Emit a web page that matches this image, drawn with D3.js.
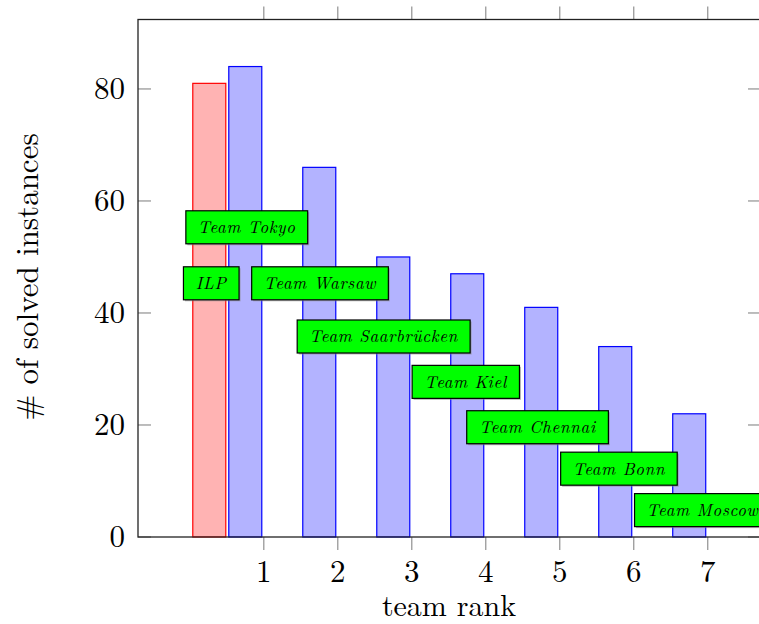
<!DOCTYPE html>
<html>
<head>
<meta charset="utf-8">
<script src="https://cdn.jsdelivr.net/npm/d3@7"></script>
<style>
  body { margin: 0; background: #fff; }
  svg { display: block; }
  text { font-family: "Latin Modern Roman", "DejaVu Serif", serif; fill: #000; }
</style>
</head>
<body>
<svg id="chart" width="759" height="624"></svg>
<script>
// data
var ilpRank = [0];
var ilpSolved = [81];
var teamRanks = [1, 2, 3, 4, 5, 6, 7];
var teamSolved = [84, 66, 50, 47, 41, 34, 22];
var xTicks = [1, 2, 3, 4, 5, 6, 7];
var yTicks = [0, 20, 40, 60, 80];

// label boxes: text and where their centres sit (data coords)
var labelTexts = ["Team Tokyo", "ILP", "Team Warsaw", "Team Saarbrücken", "Team Kiel", "Team Chennai", "Team Bonn", "Team Moscow"];
var labelX = [0.77, 0.29, 1.76, 2.62, 3.73, 4.70, 5.80, 6.93];
var labelY = [55.3, 45.3, 45.3, 35.8, 27.7, 19.6, 12.2, 4.8];

var pLeft = 138, pRight = 761, pTop = 19.5, pBottom = 537;
var barW = 33, shift = 18.5;

var svg = d3.select("#chart");

var x = d3.scaleLinear().domain([-0.7, 7.72]).range([pLeft, pRight]);
var y = d3.scaleLinear().domain([0, 92.4]).range([pBottom, pTop]);

// bars
svg.selectAll(".ilp")
    .data(ilpRank)
    .enter()
    .append("rect")
    .attr("class", "ilp")
    .attr("x", function(d) { return x(d) + shift - barW / 2 + 1; })
    .attr("y", function(d, i) { return y(ilpSolved[i]); })
    .attr("width", barW)
    .attr("height", function(d, i) { return y(0) - y(ilpSolved[i]); })
    .attr("fill", "#ffb3b3")
    .attr("stroke", "#ff0000")
    .attr("stroke-width", 1.2);

svg.selectAll(".team")
    .data(teamRanks)
    .enter()
    .append("rect")
    .attr("class", "team")
    .attr("x", function(d) { return x(d) - shift - barW / 2; })
    .attr("y", function(d, i) { return y(teamSolved[i]); })
    .attr("width", barW)
    .attr("height", function(d, i) { return y(0) - y(teamSolved[i]); })
    .attr("fill", "#b3b3ff")
    .attr("stroke", "#0000ff")
    .attr("stroke-width", 1.2);

// ticks (gray, pgfplots style)
var tickColor = "#999", tl = 13;
var axisG = svg.append("g");
axisG.selectAll(".xb").data(xTicks).enter().append("line")
    .attr("x1", function(d) { return x(d); }).attr("x2", function(d) { return x(d); })
    .attr("y1", pBottom).attr("y2", pBottom + tl)
    .attr("stroke", tickColor).attr("stroke-width", 1.3);
axisG.selectAll(".xt").data(xTicks).enter().append("line")
    .attr("x1", function(d) { return x(d); }).attr("x2", function(d) { return x(d); })
    .attr("y1", pTop).attr("y2", pTop - tl)
    .attr("stroke", tickColor).attr("stroke-width", 1.3);
axisG.selectAll(".yl").data(yTicks).enter().append("line")
    .attr("x1", pLeft).attr("x2", pLeft + tl)
    .attr("y1", function(d) { return y(d); }).attr("y2", function(d) { return y(d); })
    .attr("stroke", tickColor).attr("stroke-width", 1.3);
axisG.selectAll(".yr").data(yTicks).enter().append("line")
    .attr("x1", pRight - tl).attr("x2", pRight)
    .attr("y1", function(d) { return y(d); }).attr("y2", function(d) { return y(d); })
    .attr("stroke", tickColor).attr("stroke-width", 1.3);

// frame
svg.append("rect")
    .attr("x", pLeft).attr("y", pTop)
    .attr("width", pRight - pLeft).attr("height", pBottom - pTop)
    .attr("fill", "none").attr("stroke", "#222").attr("stroke-width", 1.3);

// tick labels
svg.selectAll(".xlab").data(xTicks).enter().append("text")
    .attr("x", function(d) { return x(d); })
    .attr("y", pBottom + 45)
    .attr("text-anchor", "middle")
    .attr("font-size", 31)
    .text(function(d) { return d; });

svg.selectAll(".ylab").data(yTicks).enter().append("text")
    .attr("x", pLeft - 13)
    .attr("y", function(d) { return y(d); })
    .attr("dy", "0.33em")
    .attr("text-anchor", "end")
    .attr("font-size", 31)
    .text(function(d) { return d; });

// axis titles
svg.append("text")
    .attr("x", 449).attr("y", 616)
    .attr("text-anchor", "middle")
    .attr("font-size", 30)
    .text("team rank");

svg.append("text")
    .attr("transform", "translate(38,277) rotate(-90)")
    .attr("text-anchor", "middle")
    .attr("font-size", 31)
    .text("# of solved instances");

// green label nodes
var labels = svg.selectAll(".lbl")
    .data(labelTexts)
    .enter()
    .append("g")
    .attr("class", "lbl")
    .attr("transform", function(d, i) { return "translate(" + x(labelX[i]) + "," + y(labelY[i]) + ")"; });

labels.each(function(d) {
    var g = d3.select(this);
    var t = g.append("text")
        .attr("text-anchor", "middle")
        .attr("dy", "0.35em")
        .attr("font-size", 17)
        .attr("font-style", "italic")
        .attr("letter-spacing", 0.7)
        .text(d);
    var bb = t.node().getBBox();
    var w = bb.width + 24, h = 33;
    g.insert("rect", "text")
        .attr("x", -w / 2 + 1.5).attr("y", -h / 2 + 1.5)
        .attr("width", w).attr("height", h)
        .attr("fill", "#888").attr("opacity", 0.6);
    g.insert("rect", "text")
        .attr("x", -w / 2).attr("y", -h / 2)
        .attr("width", w).attr("height", h)
        .attr("fill", "#00ff00").attr("stroke", "#000").attr("stroke-width", 1.2);
});
</script>
</body>
</html>
